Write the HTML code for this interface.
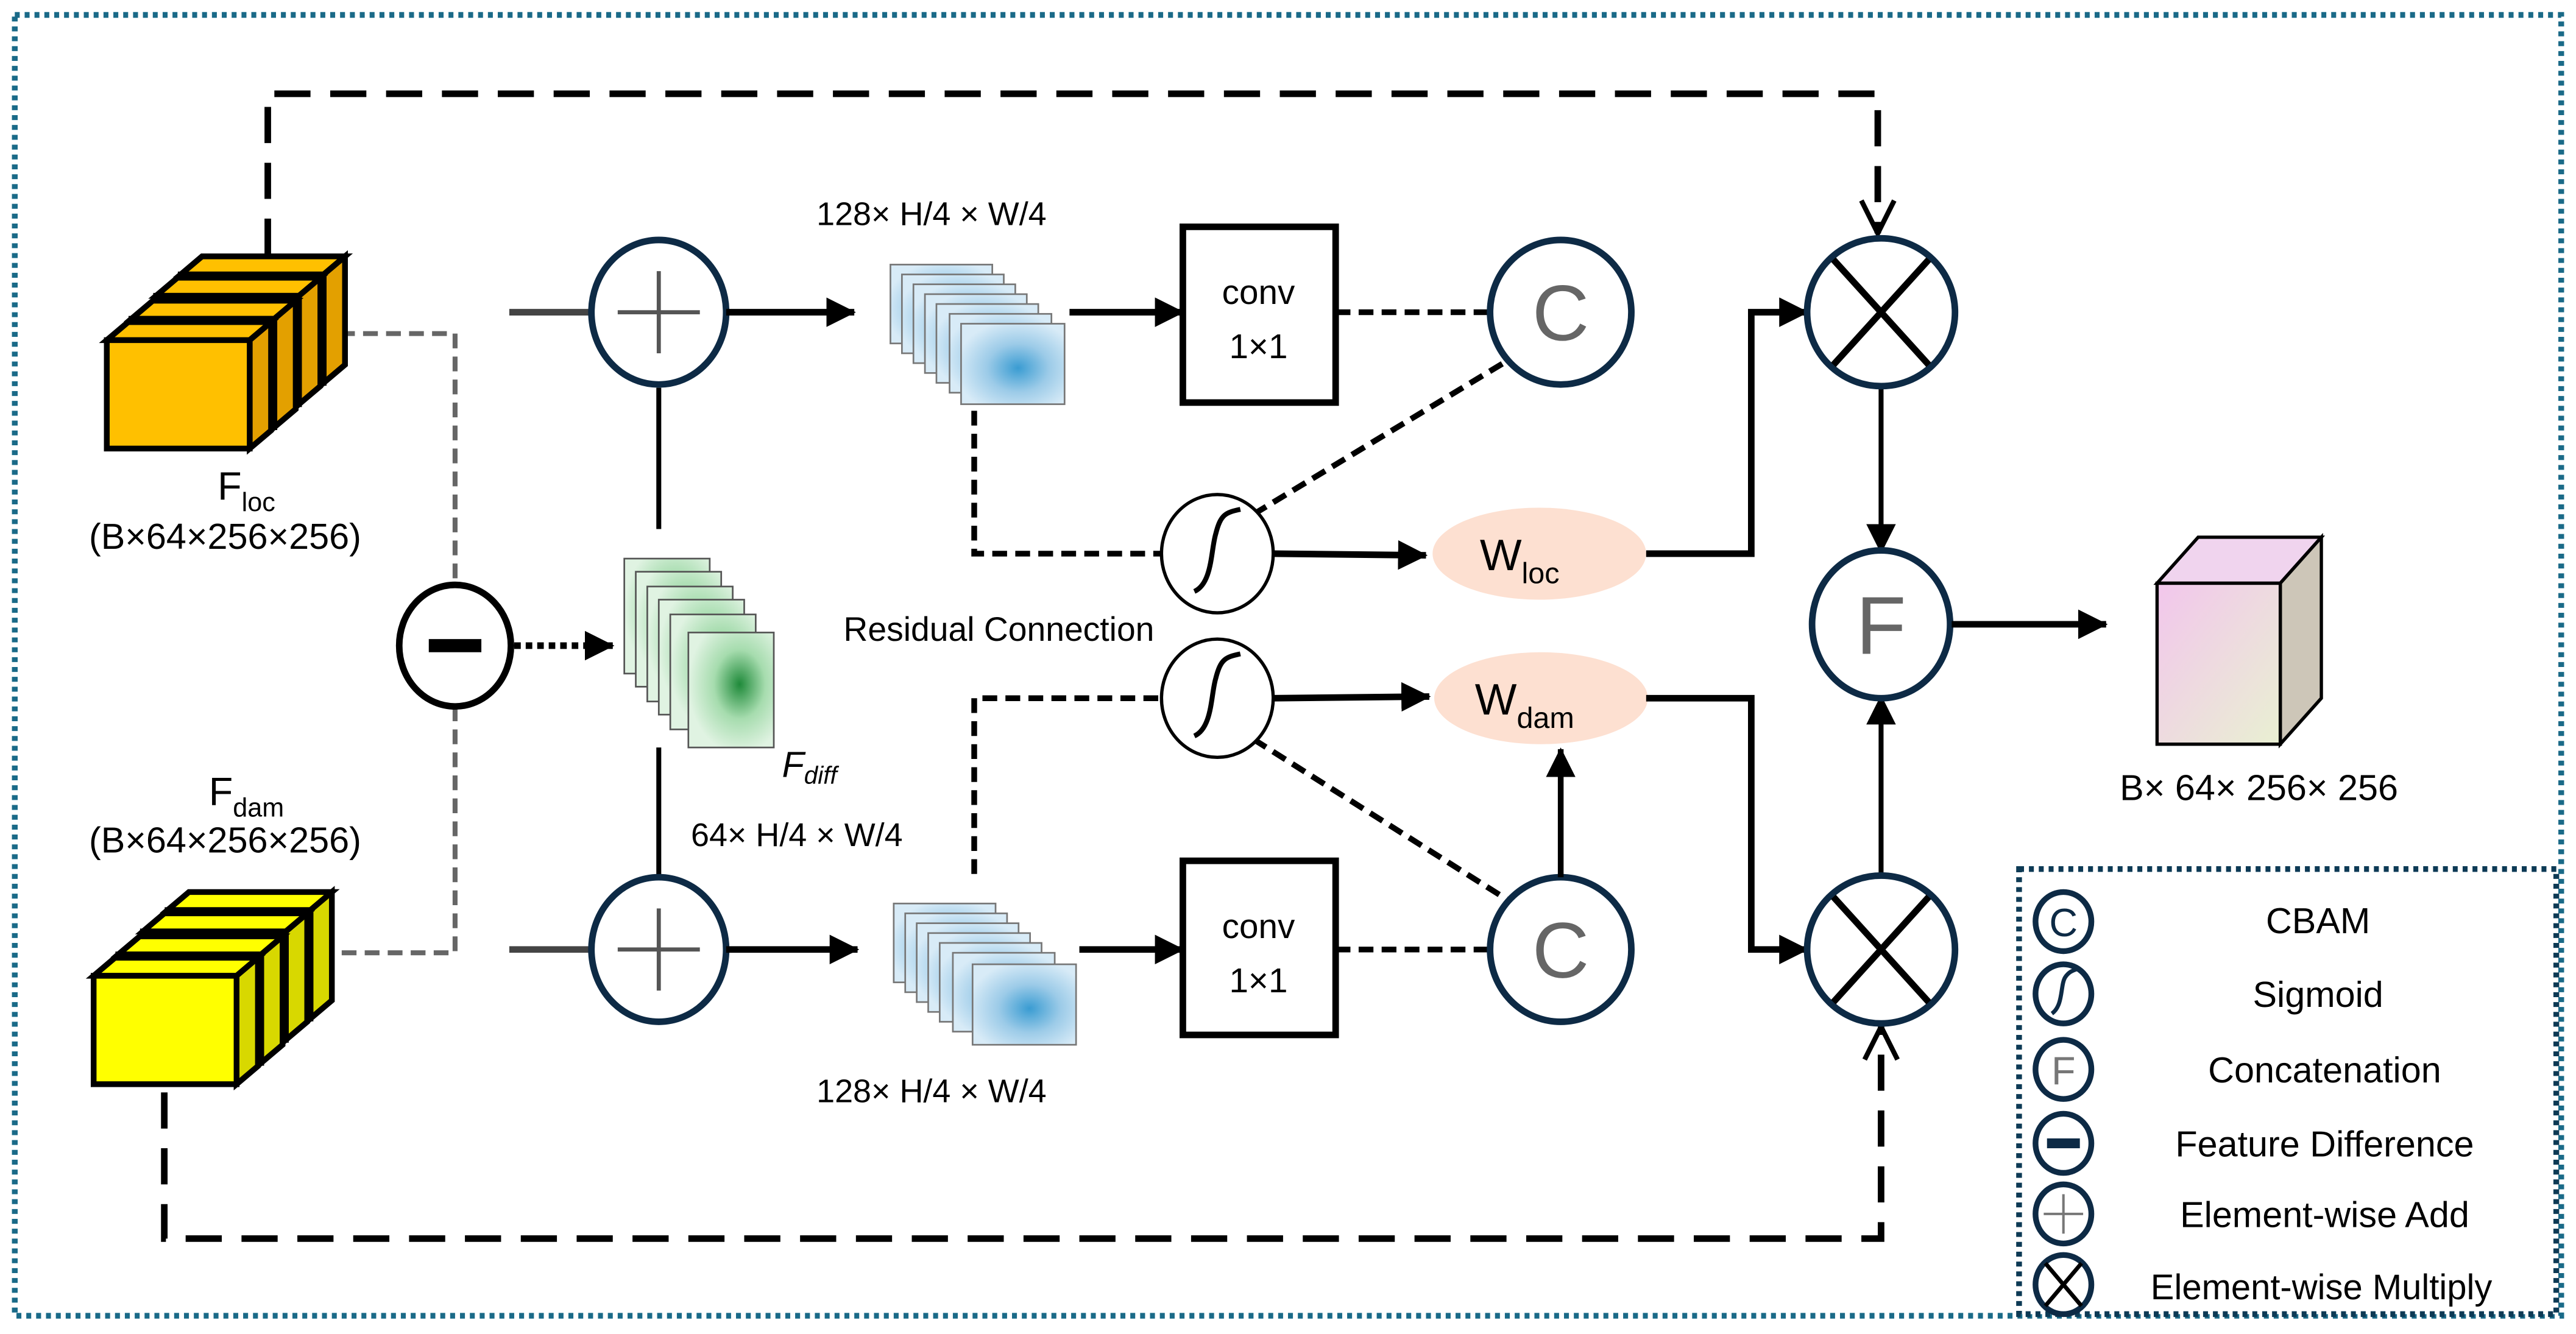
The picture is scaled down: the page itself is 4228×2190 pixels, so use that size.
<!DOCTYPE html>
<html><head><meta charset="utf-8"><style>
html,body{margin:0;padding:0;background:#fff;}
svg{display:block;}
text{font-family:"Liberation Sans",sans-serif;}
</style></head><body>
<svg width="4228" height="2190" viewBox="0 0 1568 812" xmlns="http://www.w3.org/2000/svg">
<defs>
<marker id="ars" markerWidth="18" markerHeight="18" refX="17" refY="9" orient="auto" markerUnits="userSpaceOnUse" viewBox="0 0 18 18"><path d="M0,0 L18,9 L0,18z" fill="#000"/></marker>
<marker id="aro" markerWidth="24" markerHeight="24" refX="22" refY="12" orient="auto" markerUnits="userSpaceOnUse" viewBox="0 0 24 24"><path d="M2,2 L22,12 L2,22" fill="none" stroke="#000" stroke-width="3"/></marker>
<radialGradient id="bb" cx="0.55" cy="0.55" r="0.6"><stop offset="0" stop-color="#3a9cd2"/><stop offset="0.5" stop-color="#9ccbe8"/><stop offset="1" stop-color="#d8ebf7"/></radialGradient>
<radialGradient id="gb" cx="0.6" cy="0.45" r="0.6"><stop offset="0" stop-color="#1f8a3a"/><stop offset="0.5" stop-color="#a6dcae"/><stop offset="1" stop-color="#e0f3e2"/></radialGradient>
<linearGradient id="pk" x1="0" y1="0" x2="1" y2="1"><stop offset="0" stop-color="#f2c6ec"/><stop offset="1" stop-color="#e9f0d2"/></linearGradient>
</defs>

<rect x="9" y="9" width="1550" height="792" fill="none" stroke="#1a6a88" stroke-width="3.5" stroke-dasharray="3 3"/>

<path d="M163,155 V57 H1143 V142" fill="none" stroke="#000" stroke-width="4" stroke-dasharray="22 12" marker-end="url(#aro)"/>
<path d="M100,665 V754 H1145 V625" fill="none" stroke="#000" stroke-width="4" stroke-dasharray="22 12" marker-end="url(#aro)"/>

<path d="M207,203 H277 V356 M277,430 V580 H205" fill="none" stroke="#666" stroke-width="3" stroke-dasharray="9 5"/>

<g stroke="#000" stroke-width="3.5">
<g transform="translate(45,-40)"><path d="M65,207 L78,196 L165,196 L152,207z" fill="#FFC000"/><path d="M152,207 L165,196 L165,262 L152,273z" fill="#E3A000"/><rect x="65" y="207" width="87" height="66" fill="#FFC000"/></g>
<g transform="translate(30,-27)"><path d="M65,207 L78,196 L165,196 L152,207z" fill="#FFC000"/><path d="M152,207 L165,196 L165,262 L152,273z" fill="#E3A000"/><rect x="65" y="207" width="87" height="66" fill="#FFC000"/></g>
<g transform="translate(15,-13)"><path d="M65,207 L78,196 L165,196 L152,207z" fill="#FFC000"/><path d="M152,207 L165,196 L165,262 L152,273z" fill="#E3A000"/><rect x="65" y="207" width="87" height="66" fill="#FFC000"/></g>
<g><path d="M65,207 L78,196 L165,196 L152,207z" fill="#FFC000"/><path d="M152,207 L165,196 L165,262 L152,273z" fill="#E3A000"/><rect x="65" y="207" width="87" height="66" fill="#FFC000"/></g>
</g>
<g stroke="#000" stroke-width="3.5">
<g transform="translate(45,-40)"><path d="M57,594 L70,583 L157,583 L144,594z" fill="#FFFF00"/><path d="M144,594 L157,583 L157,649 L144,660z" fill="#D8D800"/><rect x="57" y="594" width="87" height="66" fill="#FFFF00"/></g>
<g transform="translate(30,-27)"><path d="M57,594 L70,583 L157,583 L144,594z" fill="#FFFF00"/><path d="M144,594 L157,583 L157,649 L144,660z" fill="#D8D800"/><rect x="57" y="594" width="87" height="66" fill="#FFFF00"/></g>
<g transform="translate(15,-13)"><path d="M57,594 L70,583 L157,583 L144,594z" fill="#FFFF00"/><path d="M144,594 L157,583 L157,649 L144,660z" fill="#D8D800"/><rect x="57" y="594" width="87" height="66" fill="#FFFF00"/></g>
<g><path d="M57,594 L70,583 L157,583 L144,594z" fill="#FFFF00"/><path d="M144,594 L157,583 L157,649 L144,660z" fill="#D8D800"/><rect x="57" y="594" width="87" height="66" fill="#FFFF00"/></g>
</g>

<text x="150" y="304" font-size="24" text-anchor="middle">F<tspan font-size="16" dy="7">loc</tspan></text>
<text x="137" y="334" font-size="22" text-anchor="middle">(B×64×256×256)</text>
<text x="150" y="490" font-size="24" text-anchor="middle">F<tspan font-size="16" dy="7">dam</tspan></text>
<text x="137" y="519" font-size="22" text-anchor="middle">(B×64×256×256)</text>

<ellipse cx="277" cy="393" rx="34" ry="37" fill="#fff" stroke="#000" stroke-width="4"/>
<rect x="261" y="389" width="32" height="8" fill="#000"/>
<line x1="313" y1="393" x2="373" y2="393" stroke="#000" stroke-width="4" stroke-dasharray="4 3" marker-end="url(#ars)"/>

<line x1="310" y1="190" x2="360" y2="190" stroke="#444" stroke-width="4"/>
<line x1="310" y1="578" x2="360" y2="578" stroke="#444" stroke-width="4"/>
<line x1="401" y1="236" x2="401" y2="322" stroke="#000" stroke-width="3"/>
<line x1="401" y1="455" x2="401" y2="533" stroke="#000" stroke-width="3"/>
<g stroke="#0d2a45" stroke-width="4" fill="#fff">
<ellipse cx="401" cy="190" rx="41" ry="44"/>
<ellipse cx="401" cy="578" rx="41" ry="44"/>
</g>
<g stroke="#555" stroke-width="2.5">
<line x1="376" y1="190" x2="426" y2="190"/><line x1="401" y1="165" x2="401" y2="215"/>
<line x1="376" y1="578" x2="426" y2="578"/><line x1="401" y1="553" x2="401" y2="603"/>
</g>
<line x1="442" y1="190" x2="520" y2="190" stroke="#000" stroke-width="4" marker-end="url(#ars)"/>
<line x1="442" y1="578" x2="522" y2="578" stroke="#000" stroke-width="4" marker-end="url(#ars)"/>

<g stroke="#555" stroke-width="1">
<rect x="380" y="340" width="52" height="70" fill="url(#gb)"/>
<rect x="387" y="348" width="52" height="70" fill="url(#gb)"/>
<rect x="394" y="357" width="52" height="70" fill="url(#gb)"/>
<rect x="401" y="365" width="52" height="70" fill="url(#gb)"/>
<rect x="408" y="374" width="52" height="70" fill="url(#gb)"/>
<rect x="419" y="385" width="52" height="70" fill="url(#gb)"/>
</g>
<text x="476" y="473" font-size="22" font-style="italic" font-family="Liberation Serif,serif">F<tspan font-size="15" dy="4">diff</tspan></text>
<text x="485" y="515" font-size="20" text-anchor="middle">64× H/4 × W/4</text>
<text x="608" y="390" font-size="20.5" text-anchor="middle">Residual Connection</text>

<g stroke="#777" stroke-width="1">
<rect x="542" y="161" width="62" height="48" fill="url(#bb)"/>
<rect x="549" y="167" width="62" height="48" fill="url(#bb)"/>
<rect x="556" y="173" width="62" height="48" fill="url(#bb)"/>
<rect x="563" y="179" width="62" height="48" fill="url(#bb)"/>
<rect x="570" y="185" width="62" height="48" fill="url(#bb)"/>
<rect x="578" y="191" width="62" height="48" fill="url(#bb)"/>
<rect x="585" y="197" width="63" height="49" fill="url(#bb)"/>
</g>
<g stroke="#777" stroke-width="1">
<rect x="544" y="550" width="62" height="48" fill="url(#bb)"/>
<rect x="551" y="556" width="62" height="48" fill="url(#bb)"/>
<rect x="558" y="562" width="62" height="48" fill="url(#bb)"/>
<rect x="565" y="568" width="62" height="48" fill="url(#bb)"/>
<rect x="572" y="574" width="62" height="48" fill="url(#bb)"/>
<rect x="580" y="580" width="62" height="48" fill="url(#bb)"/>
<rect x="592" y="587" width="63" height="49" fill="url(#bb)"/>
</g>
<text x="567" y="137" font-size="20" text-anchor="middle">128× H/4 × W/4</text>
<text x="567" y="671" font-size="20" text-anchor="middle">128× H/4 × W/4</text>

<line x1="651" y1="190" x2="720" y2="190" stroke="#000" stroke-width="4" marker-end="url(#ars)"/>
<line x1="657" y1="578" x2="720" y2="578" stroke="#000" stroke-width="4" marker-end="url(#ars)"/>

<rect x="720" y="138" width="93" height="107" fill="#fff" stroke="#000" stroke-width="4"/>
<text x="766" y="185" font-size="21" text-anchor="middle">conv</text>
<text x="766" y="218" font-size="21" text-anchor="middle">1×1</text>
<rect x="720" y="524" width="93" height="106" fill="#fff" stroke="#000" stroke-width="4"/>
<text x="766" y="571" font-size="21" text-anchor="middle">conv</text>
<text x="766" y="604" font-size="21" text-anchor="middle">1×1</text>

<g fill="none" stroke="#000" stroke-width="3.5" stroke-dasharray="9 5">
<path d="M813,190 H907"/><path d="M813,578 H907"/>
<path d="M593,250 V337 H707"/><path d="M593,532 V425 H707"/>
<path d="M763,313 L920,218"/><path d="M763,450 L918,548"/>
</g>

<g stroke="#0d2a45" stroke-width="4" fill="#fff">
<ellipse cx="950" cy="190" rx="43" ry="44"/>
<ellipse cx="950" cy="578" rx="43" ry="44"/>
</g>
<text x="950" y="207" font-size="48" text-anchor="middle" fill="#666">C</text>
<text x="950" y="595" font-size="48" text-anchor="middle" fill="#666">C</text>

<g fill="#fff" stroke="#000" stroke-width="2">
<ellipse cx="741" cy="337" rx="34" ry="36"/>
<ellipse cx="741" cy="425" rx="34" ry="36"/>
</g>
<g fill="none" stroke="#000" stroke-width="3">
<path d="M727,360 C738,355 737,335 740,325 C743,313 746,312 755,310"/>
<path d="M727,448 C738,443 737,423 740,413 C743,401 746,400 755,398"/>
</g>
<line x1="775" y1="337" x2="868" y2="338" stroke="#000" stroke-width="4" marker-end="url(#ars)"/>
<line x1="775" y1="425" x2="870" y2="424" stroke="#000" stroke-width="4" marker-end="url(#ars)"/>

<ellipse cx="937" cy="337" rx="65" ry="28" fill="#fde0d1"/>
<ellipse cx="938" cy="425" rx="65" ry="28" fill="#fde0d1"/>
<text x="925" y="347" font-size="27" text-anchor="middle">W<tspan font-size="18" dy="8">loc</tspan></text>
<text x="928" y="435" font-size="27" text-anchor="middle">W<tspan font-size="18" dy="8">dam</tspan></text>
<line x1="950" y1="534" x2="950" y2="456" stroke="#000" stroke-width="3.5" marker-end="url(#ars)"/>

<path d="M1002,337 H1066 V190 H1100" fill="none" stroke="#000" stroke-width="4" marker-end="url(#ars)"/>
<path d="M1002,425 H1066 V578 H1100" fill="none" stroke="#000" stroke-width="4" marker-end="url(#ars)"/>

<line x1="1145" y1="235" x2="1145" y2="336" stroke="#000" stroke-width="3" marker-end="url(#ars)"/>
<line x1="1145" y1="533" x2="1145" y2="424" stroke="#000" stroke-width="3" marker-end="url(#ars)"/>
<g stroke="#0d2a45" stroke-width="4" fill="#fff">
<ellipse cx="1145" cy="190" rx="45" ry="45"/>
<ellipse cx="1145" cy="578" rx="45" ry="45"/>
<ellipse cx="1145" cy="380" rx="42" ry="45"/>
</g>
<g stroke="#000" stroke-width="4">
<line x1="1116" y1="158" x2="1174" y2="222"/><line x1="1174" y1="158" x2="1116" y2="222"/>
<line x1="1116" y1="546" x2="1174" y2="610"/><line x1="1174" y1="546" x2="1116" y2="610"/>
</g>
<text x="1145" y="398" font-size="50" text-anchor="middle" fill="#666">F</text>
<line x1="1188" y1="380" x2="1282" y2="380" stroke="#000" stroke-width="4" marker-end="url(#ars)"/>

<g stroke="#000" stroke-width="2">
<path d="M1313,355 L1338,327 L1413,327 L1388,355z" fill="#f0d4ee"/>
<path d="M1388,355 L1413,327 L1413,425 L1388,453z" fill="#cdc6b8"/>
<rect x="1313" y="355" width="75" height="98" fill="url(#pk)"/>
</g>
<text x="1375" y="487" font-size="22" text-anchor="middle">B× 64× 256× 256</text>

<rect x="1229" y="529" width="327" height="271" fill="#fff" stroke="#0d3a55" stroke-width="3.5" stroke-dasharray="3 3"/>
<g stroke="#0d2a45" stroke-width="3.5" fill="#fff">
<ellipse cx="1256" cy="561" rx="17" ry="18"/>
<ellipse cx="1256" cy="605" rx="17" ry="18"/>
<ellipse cx="1256" cy="651" rx="17" ry="18"/>
<ellipse cx="1256" cy="696" rx="17" ry="18"/>
<ellipse cx="1256" cy="739" rx="17" ry="18"/>
<ellipse cx="1256" cy="782" rx="17" ry="18"/>
</g>
<text x="1256" y="570" font-size="24" text-anchor="middle" fill="#0d2a45">C</text>
<path d="M1249,617 C1256,612 1254,600 1257,595 C1259,592 1261,591 1264,590" fill="none" stroke="#0d2a45" stroke-width="2.5"/>
<text x="1256" y="660" font-size="24" text-anchor="middle" fill="#777">F</text>
<rect x="1246" y="693" width="20" height="6" fill="#0d2a45"/>
<g stroke="#777" stroke-width="1.5"><line x1="1244" y1="739" x2="1268" y2="739"/><line x1="1256" y1="727" x2="1256" y2="751"/></g>
<g stroke="#000" stroke-width="2.5"><line x1="1245" y1="769" x2="1267" y2="795"/><line x1="1267" y1="769" x2="1245" y2="795"/></g>
<g font-size="22" text-anchor="middle">
<text x="1411" y="568">CBAM</text>
<text x="1411" y="613">Sigmoid</text>
<text x="1415" y="659">Concatenation</text>
<text x="1415" y="704">Feature Difference</text>
<text x="1415" y="747">Element-wise Add</text>
<text x="1413" y="791" font-size="21.5">Element-wise Multiply</text>
</g>
</svg>
</body></html>
